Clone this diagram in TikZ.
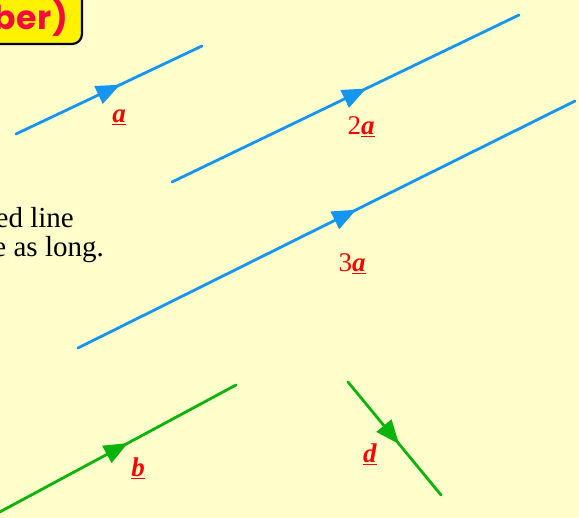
\documentclass[tikz,border=0pt]{standalone}
\usepackage{fontspec}
\setmainfont{Liberation Serif}
\newfontfamily\boxfont{Poppins}
\usetikzlibrary{arrows.meta,decorations.markings}
\definecolor{bgyellow}{RGB}{255,255,204}
\definecolor{vecblue}{RGB}{20,150,240}
\definecolor{vecgreen}{RGB}{10,180,10}
\definecolor{titlered}{RGB}{245,10,60}
\tikzset{
  vecline/.style={line width=2.8pt, line cap=round,
    decoration={markings, mark=at position #1 with {\arrow{Triangle[length=24pt,width=19pt]}}},
    postaction={decorate}},
  bluevec/.style={vecline=#1, draw=vecblue, fill=vecblue},
  greenvec/.style={vecline=#1, draw=vecgreen, fill=vecgreen},
  veclabel/.style={text=red, font=\fontsize{27}{31}\selectfont, anchor=base, inner sep=0pt},
  bodytext/.style={font=\fontsize{29}{33}\selectfont, anchor=base east, inner sep=0pt},
}
\newcommand{\vsym}[1]{\underline{\textbf{\textit{#1}}}}
\begin{document}
\begin{tikzpicture}[x=1pt,y=1pt]
\useasboundingbox (0,0) rectangle (579,518);
\fill[bgyellow] (0,0) rectangle (579,518);
\clip (0,0) rectangle (579,518);
% title box (cropped)
\draw[fill=yellow, line width=2.2pt, rounded corners=10pt] (-60,474) rectangle (82,540);
\node[anchor=base east, inner sep=0pt, text=titlered, font=\boxfont\bfseries\fontsize{33}{38}\selectfont] (title) at (68,488) {b\kern1pt e\kern1pt r)};
% body text (cropped)
\node[bodytext] (t1) at (74,290) {directed line};
\node[bodytext] (t2) at (104,261) {twice as long.};
% endpoints
\coordinate (a1) at (16,384);   \coordinate (a2) at (202,472);
\coordinate (c1) at (172,336);  \coordinate (c2) at (519,503);
\coordinate (e1) at (78,170);   \coordinate (e2) at (575,417);
\coordinate (b1) at (-4,4);     \coordinate (b2) at (236,133);
\coordinate (d1) at (348,136);  \coordinate (d2) at (441,23);
% vectors
\draw[bluevec=0.56] (a1) -- (a2);
\draw[bluevec=0.56] (c1) -- (c2);
\draw[bluevec=0.56] (e1) -- (e2);
\draw[greenvec=0.55] (b1) -- (b2);
\draw[greenvec=0.55] (d1) -- (d2);
% labels
\node[veclabel] (la) at (119,395) {\vsym{a}};
\node[veclabel] (l2a) at (361,383) {2\vsym{a}};
\node[veclabel] (l3a) at (352,246) {3\vsym{a}};
\node[veclabel] (lb) at (138,41) {\vsym{b}};
\node[veclabel] (ld) at (370,55) {\vsym{d}};
\end{tikzpicture}
\end{document}
